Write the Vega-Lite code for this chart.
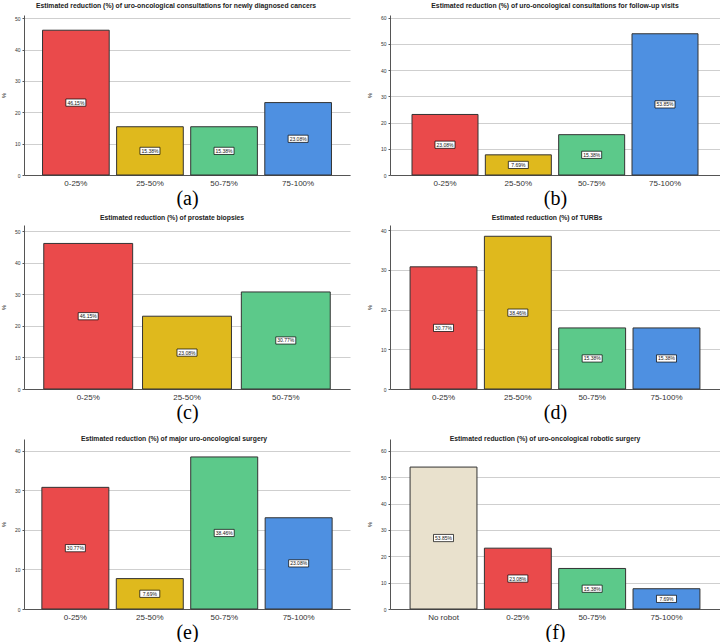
{
  "$schema": "https://vega.github.io/schema/vega-lite/v6.json",
  "padding": {"left": 0, "top": 3, "right": 0, "bottom": 0},
  "background": "white",
  "datasets": {
    "a": [
      {"cat": "0-25%", "pct": 46.15, "label": "46.15%"},
      {"cat": "25-50%", "pct": 15.38, "label": "15.38%"},
      {"cat": "50-75%", "pct": 15.38, "label": "15.38%"},
      {"cat": "75-100%", "pct": 23.08, "label": "23.08%"}
    ],
    "b": [
      {"cat": "0-25%", "pct": 23.08, "label": "23.08%"},
      {"cat": "25-50%", "pct": 7.69, "label": "7.69%"},
      {"cat": "50-75%", "pct": 15.38, "label": "15.38%"},
      {"cat": "75-100%", "pct": 53.85, "label": "53.85%"}
    ],
    "c": [
      {"cat": "0-25%", "pct": 46.15, "label": "46.15%"},
      {"cat": "25-50%", "pct": 23.08, "label": "23.08%"},
      {"cat": "50-75%", "pct": 30.77, "label": "30.77%"}
    ],
    "d": [
      {"cat": "0-25%", "pct": 30.77, "label": "30.77%"},
      {"cat": "25-50%", "pct": 38.46, "label": "38.46%"},
      {"cat": "50-75%", "pct": 15.38, "label": "15.38%"},
      {"cat": "75-100%", "pct": 15.38, "label": "15.38%"}
    ],
    "e": [
      {"cat": "0-25%", "pct": 30.77, "label": "30.77%"},
      {"cat": "25-50%", "pct": 7.69, "label": "7.69%"},
      {"cat": "50-75%", "pct": 38.46, "label": "38.46%"},
      {"cat": "75-100%", "pct": 23.08, "label": "23.08%"}
    ],
    "f": [
      {"cat": "No robot", "pct": 53.85, "label": "53.85%"},
      {"cat": "0-25%", "pct": 23.08, "label": "23.08%"},
      {"cat": "50-75%", "pct": 15.38, "label": "15.38%"},
      {"cat": "75-100%", "pct": 7.69, "label": "7.69%"}
    ]
  },
  "columns": 2,
  "spacing": {"row": 50, "column": 40},
  "bounds": "flush",
  "resolve": {"scale": {"x": "independent", "y": "independent"}},
  "concat": [
    {
      "width": 326, "height": 160,
      "data": {"name": "a"},
      "title": {"text": "Estimated reduction (%) of uro-oncological consultations for newly diagnosed cancers", "dx": -11},
      "transform": [{"calculate": "datum.pct / 2", "as": "mid"}],
      "encoding": {"x": {"field": "cat", "type": "nominal", "sort": null, "title": "(a)", "scale": {"paddingInner": 0.1, "paddingOuter": 0.25}}},
      "layer": [
        {"mark": {"type": "bar", "stroke": "#333", "strokeWidth": 1},
         "encoding": {
           "y": {"field": "pct", "type": "quantitative", "title": "%", "scale": {"domain": [0, 51], "nice": false}, "axis": {"values": [0, 10, 20, 30, 40, 50]}},
           "color": {"field": "cat", "type": "nominal", "legend": null, "scale": {"domain": ["0-25%", "25-50%", "50-75%", "75-100%", "No robot"], "range": ["#ea4a4b", "#dfb91d", "#5cc98a", "#4e90e1", "#e9e1cd"]}}}},
        {"mark": {"type": "point", "shape": "M-1,-0.36L1,-0.36L1,0.36L-1,0.36Z", "size": 400, "fill": "white", "stroke": "black", "strokeWidth": 0.7, "opacity": 1},
         "encoding": {"y": {"field": "mid", "type": "quantitative", "title": "%", "axis": {"values": [0, 10, 20, 30, 40, 50]}}}},
        {"mark": {"type": "text", "fontSize": 5, "color": "#111"},
         "encoding": {"y": {"field": "mid", "type": "quantitative", "title": "%", "axis": {"values": [0, 10, 20, 30, 40, 50]}}, "text": {"field": "label"}}}
      ]
    },
    {
      "width": 330, "height": 160,
      "data": {"name": "b"},
      "title": {"text": "Estimated reduction (%) of uro-oncological consultations for follow-up visits", "dx": 0},
      "transform": [{"calculate": "datum.pct / 2", "as": "mid"}],
      "encoding": {"x": {"field": "cat", "type": "nominal", "sort": null, "title": "(b)", "scale": {"paddingInner": 0.1, "paddingOuter": 0.3}}},
      "layer": [
        {"mark": {"type": "bar", "stroke": "#333", "strokeWidth": 1},
         "encoding": {
           "y": {"field": "pct", "type": "quantitative", "title": "%", "scale": {"domain": [0, 61], "nice": false}, "axis": {"values": [0, 10, 20, 30, 40, 50, 60]}},
           "color": {"field": "cat", "type": "nominal", "legend": null}}},
        {"mark": {"type": "point", "shape": "M-1,-0.36L1,-0.36L1,0.36L-1,0.36Z", "size": 400, "fill": "white", "stroke": "black", "strokeWidth": 0.7, "opacity": 1},
         "encoding": {"y": {"field": "mid", "type": "quantitative", "title": "%", "axis": {"values": [0, 10, 20, 30, 40, 50, 60]}}}},
        {"mark": {"type": "text", "fontSize": 5, "color": "#111"},
         "encoding": {"y": {"field": "mid", "type": "quantitative", "title": "%", "axis": {"values": [0, 10, 20, 30, 40, 50, 60]}}, "text": {"field": "label"}}}
      ]
    },
    {
      "width": 326, "height": 164,
      "data": {"name": "c"},
      "title": {"text": "Estimated reduction (%) of prostate biopsies", "dx": -15, "offset": 3},
      "transform": [{"calculate": "datum.pct / 2", "as": "mid"}],
      "encoding": {"x": {"field": "cat", "type": "nominal", "sort": null, "title": "(c)", "scale": {"paddingInner": 0.1, "paddingOuter": 0.2}}},
      "layer": [
        {"mark": {"type": "bar", "stroke": "#333", "strokeWidth": 1},
         "encoding": {
           "y": {"field": "pct", "type": "quantitative", "title": "%", "scale": {"domain": [0, 52], "nice": false}, "axis": {"values": [0, 10, 20, 30, 40, 50]}},
           "color": {"field": "cat", "type": "nominal", "legend": null}}},
        {"mark": {"type": "point", "shape": "M-1,-0.36L1,-0.36L1,0.36L-1,0.36Z", "size": 400, "fill": "white", "stroke": "black", "strokeWidth": 0.7, "opacity": 1},
         "encoding": {"y": {"field": "mid", "type": "quantitative", "title": "%", "axis": {"values": [0, 10, 20, 30, 40, 50]}}}},
        {"mark": {"type": "text", "fontSize": 5, "color": "#111"},
         "encoding": {"y": {"field": "mid", "type": "quantitative", "title": "%", "axis": {"values": [0, 10, 20, 30, 40, 50]}}, "text": {"field": "label"}}}
      ]
    },
    {
      "width": 330, "height": 164,
      "data": {"name": "d"},
      "title": {"text": "Estimated reduction (%) of TURBs", "dx": -8, "offset": 3},
      "transform": [{"calculate": "datum.pct / 2", "as": "mid"}],
      "encoding": {"x": {"field": "cat", "type": "nominal", "sort": null, "title": "(d)", "scale": {"paddingInner": 0.1, "paddingOuter": 0.27}}},
      "layer": [
        {"mark": {"type": "bar", "stroke": "#333", "strokeWidth": 1},
         "encoding": {
           "y": {"field": "pct", "type": "quantitative", "title": "%", "scale": {"domain": [0, 41.3], "nice": false}, "axis": {"values": [0, 10, 20, 30, 40]}},
           "color": {"field": "cat", "type": "nominal", "legend": null}}},
        {"mark": {"type": "point", "shape": "M-1,-0.36L1,-0.36L1,0.36L-1,0.36Z", "size": 400, "fill": "white", "stroke": "black", "strokeWidth": 0.7, "opacity": 1},
         "encoding": {"y": {"field": "mid", "type": "quantitative", "title": "%", "axis": {"values": [0, 10, 20, 30, 40]}}}},
        {"mark": {"type": "text", "fontSize": 5, "color": "#111"},
         "encoding": {"y": {"field": "mid", "type": "quantitative", "title": "%", "axis": {"values": [0, 10, 20, 30, 40]}}, "text": {"field": "label"}}}
      ]
    },
    {
      "width": 326, "height": 170,
      "data": {"name": "e"},
      "title": {"text": "Estimated reduction (%) of major uro-oncological surgery", "dx": -13, "offset": -4},
      "transform": [{"calculate": "datum.pct / 2", "as": "mid"}],
      "encoding": {"x": {"field": "cat", "type": "nominal", "sort": null, "title": "(e)", "scale": {"paddingInner": 0.1, "paddingOuter": 0.24}}},
      "layer": [
        {"mark": {"type": "bar", "stroke": "#333", "strokeWidth": 1},
         "encoding": {
           "y": {"field": "pct", "type": "quantitative", "title": "%", "scale": {"domain": [0, 43], "nice": false}, "axis": {"values": [0, 10, 20, 30, 40]}},
           "color": {"field": "cat", "type": "nominal", "legend": null}}},
        {"mark": {"type": "point", "shape": "M-1,-0.36L1,-0.36L1,0.36L-1,0.36Z", "size": 400, "fill": "white", "stroke": "black", "strokeWidth": 0.7, "opacity": 1},
         "encoding": {"y": {"field": "mid", "type": "quantitative", "title": "%", "axis": {"values": [0, 10, 20, 30, 40]}}}},
        {"mark": {"type": "text", "fontSize": 5, "color": "#111"},
         "encoding": {"y": {"field": "mid", "type": "quantitative", "title": "%", "axis": {"values": [0, 10, 20, 30, 40]}}, "text": {"field": "label"}}}
      ]
    },
    {
      "width": 330, "height": 170,
      "data": {"name": "f"},
      "title": {"text": "Estimated reduction (%) of uro-oncological robotic surgery", "dx": -10, "offset": -4},
      "transform": [{"calculate": "datum.pct / 2", "as": "mid"}],
      "encoding": {"x": {"field": "cat", "type": "nominal", "sort": null, "title": "(f)", "scale": {"paddingInner": 0.1, "paddingOuter": 0.27}}},
      "layer": [
        {"mark": {"type": "bar", "stroke": "#333", "strokeWidth": 1},
         "encoding": {
           "y": {"field": "pct", "type": "quantitative", "title": "%", "scale": {"domain": [0, 64.5], "nice": false}, "axis": {"values": [0, 10, 20, 30, 40, 50, 60]}},
           "color": {"field": "cat", "type": "nominal", "legend": null}}},
        {"mark": {"type": "point", "shape": "M-1,-0.36L1,-0.36L1,0.36L-1,0.36Z", "size": 400, "fill": "white", "stroke": "black", "strokeWidth": 0.7, "opacity": 1},
         "encoding": {"y": {"field": "mid", "type": "quantitative", "title": "%", "axis": {"values": [0, 10, 20, 30, 40, 50, 60]}}}},
        {"mark": {"type": "text", "fontSize": 5, "color": "#111"},
         "encoding": {"y": {"field": "mid", "type": "quantitative", "title": "%", "axis": {"values": [0, 10, 20, 30, 40, 50, 60]}}, "text": {"field": "label"}}}
      ]
    }
  ],
  "config": {
    "view": {"stroke": null},
    "font": "Liberation Sans",
    "axis": {"domainColor": "#555", "domainWidth": 1, "labelColor": "#333", "grid": false},
    "axisY": {"grid": true, "gridColor": "#cfcfcf", "gridWidth": 1, "labelFontSize": 5, "labelOverlap": false, "labelFlush": false, "tickSize": 2, "tickColor": "#555", "labelPadding": 2, "titleFontSize": 6, "titleFontWeight": "normal", "titlePadding": 8, "titleColor": "#222"},
    "axisX": {"labelFontSize": 8, "labelAngle": 0, "ticks": false, "labelPadding": 4, "titleFont": "Liberation Serif", "titleFontSize": 20, "titleFontWeight": "normal", "titleColor": "#000", "titlePadding": 1},
    "title": {"fontSize": 6.8, "fontWeight": "bold", "color": "#222", "offset": 5}
  }
}
